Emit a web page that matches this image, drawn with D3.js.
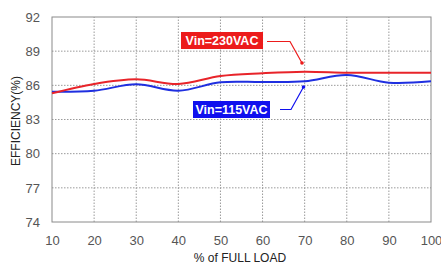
<!DOCTYPE html>
<html>
<head>
<meta charset="utf-8">
<script src="https://cdn.jsdelivr.net/npm/d3@7"></script>
<style>
  body { margin: 0; background: #fff; }
  svg { display: block; font-family: "Liberation Sans", Arial, sans-serif; }
</style>
</head>
<body>
<svg id="chart"></svg>
<script>
"use strict";

const width = 441;
const height = 264;
const margin = {top: 17, right: 10, bottom: 42, left: 52};

// data
const load = [10, 20, 30, 40, 50, 60, 70, 80, 90, 100];
const eff230 = [85.3, 86.12, 86.53, 86.12, 86.82, 87.06, 87.2, 87.11, 87.11, 87.11];
const eff115 = [85.44, 85.53, 86.09, 85.53, 86.27, 86.29, 86.35, 86.91, 86.23, 86.35];
const xTicks = [10, 20, 30, 40, 50, 60, 70, 80, 90, 100];
const yTicks = [74, 77, 80, 83, 86, 89, 92];

const svg = d3.select("#chart")
    .attr("width", width)
    .attr("height", height);

const x = d3.scaleLinear()
    .domain([10, 100])
    .range([margin.left, width - margin.right]);

const y = d3.scaleLinear()
    .domain([74, 92])
    .range([height - margin.bottom, margin.top]);

// grid
const grid = svg.append("g");
grid.selectAll("line.vx")
    .data(xTicks.slice(1, -1))
    .enter()
    .append("line")
    .attr("x1", d => x(d)).attr("x2", d => x(d))
    .attr("y1", y(74)).attr("y2", y(92))
    .attr("stroke", "#9a9a9a")
    .attr("stroke-dasharray", "1.5,1.5");
grid.selectAll("line.hy")
    .data(yTicks.slice(1, -1))
    .enter()
    .append("line")
    .attr("x1", x(10)).attr("x2", x(100))
    .attr("y1", d => y(d)).attr("y2", d => y(d))
    .attr("stroke", "#9a9a9a")
    .attr("stroke-dasharray", "1.5,1.5");

// frame
svg.append("rect")
    .attr("x", x(10))
    .attr("y", y(92))
    .attr("width", x(100) - x(10))
    .attr("height", y(74) - y(92))
    .attr("fill", "none")
    .attr("stroke", "#8a8a8a")
    .attr("stroke-width", 1);

// axes
const axisX = svg.append("g")
    .attr("transform", `translate(0, ${height - margin.bottom})`)
    .call(d3.axisBottom(x).tickValues(xTicks).tickSize(0).tickPadding(14));
axisX.select(".domain").remove();
axisX.selectAll("text").attr("font-size", 13).attr("fill", "#555");

const axisY = svg.append("g")
    .attr("transform", `translate(${margin.left}, 0)`)
    .call(d3.axisLeft(y).tickValues(yTicks).tickSize(0).tickPadding(12));
axisY.select(".domain").remove();
axisY.selectAll("text").attr("font-size", 13).attr("fill", "#555");

// axis titles
svg.append("text")
    .attr("x", 240)
    .attr("y", 262)
    .attr("text-anchor", "middle")
    .attr("font-size", 12)
    .attr("fill", "#222")
    .text("% of FULL LOAD");

svg.append("text")
    .attr("transform", "translate(20, 121) rotate(-90)")
    .attr("text-anchor", "middle")
    .attr("font-size", 12)
    .attr("fill", "#222")
    .text("EFFICIENCY(%)");

// curves
const line = d3.line()
    .x((d, i) => x(load[i]))
    .y(d => y(d))
    .curve(d3.curveCatmullRom.alpha(0.5));

svg.append("path")
    .datum(eff115)
    .attr("d", line)
    .attr("fill", "none")
    .attr("stroke", "#1f2fe0")
    .attr("stroke-width", 2);

svg.append("path")
    .datum(eff230)
    .attr("d", line)
    .attr("fill", "none")
    .attr("stroke", "#e8242a")
    .attr("stroke-width", 2);

// labels with leader lines
function callout(label, boxX, boxY, boxW, pts, color) {
    svg.append("path")
        .attr("d", d3.line()(pts))
        .attr("fill", "none")
        .attr("stroke", color)
        .attr("stroke-width", 1.2);
    const tip = pts[pts.length - 1];
    svg.append("circle")
        .attr("cx", tip[0]).attr("cy", tip[1]).attr("r", 1.8)
        .attr("fill", color);
    svg.append("rect")
        .attr("x", boxX).attr("y", boxY)
        .attr("width", boxW).attr("height", 17)
        .attr("fill", color);
    svg.append("text")
        .attr("x", boxX + boxW / 2)
        .attr("y", boxY + 13)
        .attr("text-anchor", "middle")
        .attr("font-size", 12.5)
        .attr("font-weight", "bold")
        .attr("fill", "#fff")
        .text(label);
}

callout("Vin=230VAC", 181, 32, 82, [[267, 41.5], [290, 41.5], [302, 63]], "#ec1b1b");
callout("Vin=115VAC", 193, 101, 77, [[280, 109.5], [291, 109.5], [303.5, 87]], "#1010ee");
</script>
</body>
</html>
